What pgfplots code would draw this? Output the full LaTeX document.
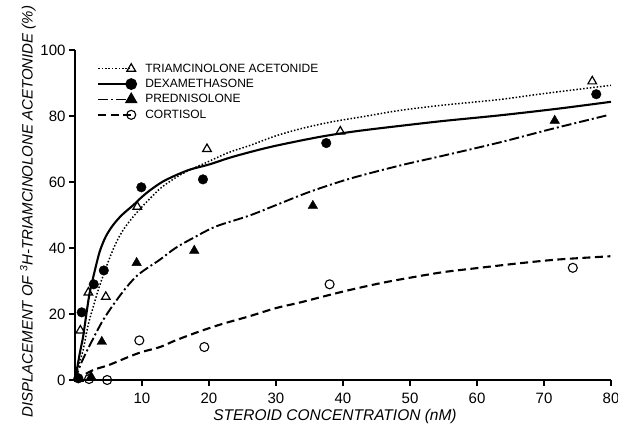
\documentclass[border=0pt]{standalone}
\usepackage{fontspec}
\setmainfont{Liberation Sans}
\usepackage{pgfplots}
\pgfplotsset{compat=1.18}
\usetikzlibrary{calc}

% fitted curves
\pgfplotstableread{
x y
0 0
0.5 4
1.2 9
2 17
2.7 22
3.5 27.5
4.8 35
6 41
7.2 45.5
8.7 49.5
10.1 52.7
11.2 55
13 58.5
16 62.5
19.7 66
23 69
26 71
30 74
34 76.3
38.5 78.3
43 79.8
48.5 81.7
55 83.3
63.4 85
70 86.8
80 89.3
}\taCurve
\pgfplotstableread{
x y
0 0
0.4 4.5
0.8 9
1.2 13
1.7 20
2.2 26.5
3 33.5
3.7 39
4.6 43.5
5.7 47
7 50
8.7 53
10 55.5
11.2 57.5
13 60
15 62
17.2 63.8
20 65.3
23 67.3
26 69
30 71
36.6 73.7
42 75.4
48.5 77
55 78.5
63.4 80.2
72 82.2
80 84.3
}\dexCurve
\pgfplotstableread{
x y
0 0
0.8 4.5
1.7 8.5
2.7 12.5
4 17.5
5.2 21.3
6.5 25
7.8 28.4
9.2 31.5
10.7 33.8
12.7 36.5
15 40
17.6 43
21 46.5
26 49.8
30 53
35 57
41 61
48.5 65
55 68
63.4 72
71 76
79.4 80.2
}\predCurve
\pgfplotstableread{
x y
0 0
2.7 3
5 4.5
8 7
10 8.5
12.7 10
15 12
18.7 14.8
22 17
26 19.3
30 21.8
33.6 23.5
40 26.8
45.5 29.3
50 31
55 32.7
60.4 34
66 35.3
72 36.5
79.9 37.5
}\corCurve

% measured points
\pgfplotstableread{
x y
0.8 15
2 26.5
4.6 25.2
9.3 52.5
19.7 70
39.6 75.3
77.2 90.5
}\taPts
\pgfplotstableread{
x y
0.5 0.5
1 20.5
2.8 29
4.3 33.2
9.9 58.4
19.1 60.8
37.5 71.8
77.8 86.6
}\dexPts
\pgfplotstableread{
x y
0.6 0.3
2.4 1
4 11.6
9.2 35.5
17.8 39.2
35.5 52.8
71.6 78.6
}\predPts
\pgfplotstableread{
x y
2.1 0.3
4.8 0
9.6 12
19.3 10
38 29
74.3 34
}\corPts

\tikzset{
  taline/.style={line width=1.5pt, dash pattern=on 1.5pt off 1.9pt},
  dexline/.style={line width=2.1pt},
  predline/.style={line width=1.9pt, dash pattern=on 10pt off 3pt on 2pt off 3pt},
  corline/.style={line width=2.1pt, dash pattern=on 8pt off 4.5pt},
}

\begin{document}
\begin{tikzpicture}
\begin{axis}[
  name=ax,
  scale only axis,
  width=536pt, height=330pt,
  xmin=0, xmax=80, ymin=0, ymax=100,
  axis lines=left,
  axis line style={-, line width=1.4pt},
  xtick={10,20,...,80},
  ytick={0,20,...,100},
  tick align=outside,
  major tick length=6pt,
  tick style={line width=1.3pt, black},
  /pgf/number format/assume math mode=true,
  tick label style={font=\fontsize{15}{17}\selectfont},
  xticklabel style={anchor=north, yshift=-3pt},
  every axis x label/.style={at={(axis description cs:0.485,-0.112)}, anchor=center},
  every axis y label/.style={at={(axis description cs:-0.088,0.51)}, rotate=90, anchor=center},
  xlabel style={font=\fontsize{15.5}{18}\selectfont\itshape},
  ylabel style={font=\fontsize{15}{18}\selectfont\itshape},
  xlabel={STEROID CONCENTRATION (nM)},
  ylabel={DISPLACEMENT OF \textsuperscript{3}H-TRIAMCINOLONE ACETONIDE (\%)},
  legend style={at={(axis description cs:0.041,0.965)}, anchor=north west,
    draw=none, fill=none, font=\fontsize{12}{14}\selectfont,
    row sep=1.5pt, inner sep=0pt, cells={anchor=west}},
  legend image code/.code={
    \draw[mark repeat=2, mark phase=2, #1] plot coordinates {(0pt,0pt) (33pt,0pt)};
    \path (44pt,0pt);
  },
]
\addlegendimage{taline, mark=triangle, mark size=5pt, mark options={solid, line width=1.2pt, fill=white}}
\addlegendentry{TRIAMCINOLONE ACETONIDE}
\addlegendimage{dexline, mark=*, mark size=4.8pt, mark options={solid}}
\addlegendentry{DEXAMETHASONE}
\addlegendimage{predline, mark=triangle*, mark size=5.5pt, mark options={solid}}
\addlegendentry{PREDNISOLONE}
\addlegendimage{corline, mark=o, mark size=4.5pt, mark options={solid, line width=1.1pt, fill=white}}
\addlegendentry{CORTISOL}

\addplot[taline, smooth, forget plot] table {\taCurve};
\addplot[dexline, smooth, forget plot] table {\dexCurve};
\addplot[predline, smooth, forget plot] table {\predCurve};
\addplot[corline, smooth, forget plot] table {\corCurve};

\addplot[only marks, mark=triangle, mark size=5pt, mark options={line width=1.2pt, fill=white}, forget plot] table {\taPts};
\addplot[only marks, mark=*, mark size=4.8pt, forget plot] table {\dexPts};
\addplot[only marks, mark=triangle*, mark size=5.5pt, forget plot] table {\predPts};
\addplot[only marks, mark=o, mark size=4.5pt, mark options={line width=1.1pt, fill=white}, forget plot] table {\corPts};
\end{axis}
\pgfresetboundingbox
\useasboundingbox ($(ax.south west)+(-75pt,-57pt)$) rectangle ($(ax.south west)+(543pt,380pt)$);
\end{tikzpicture}
\end{document}
